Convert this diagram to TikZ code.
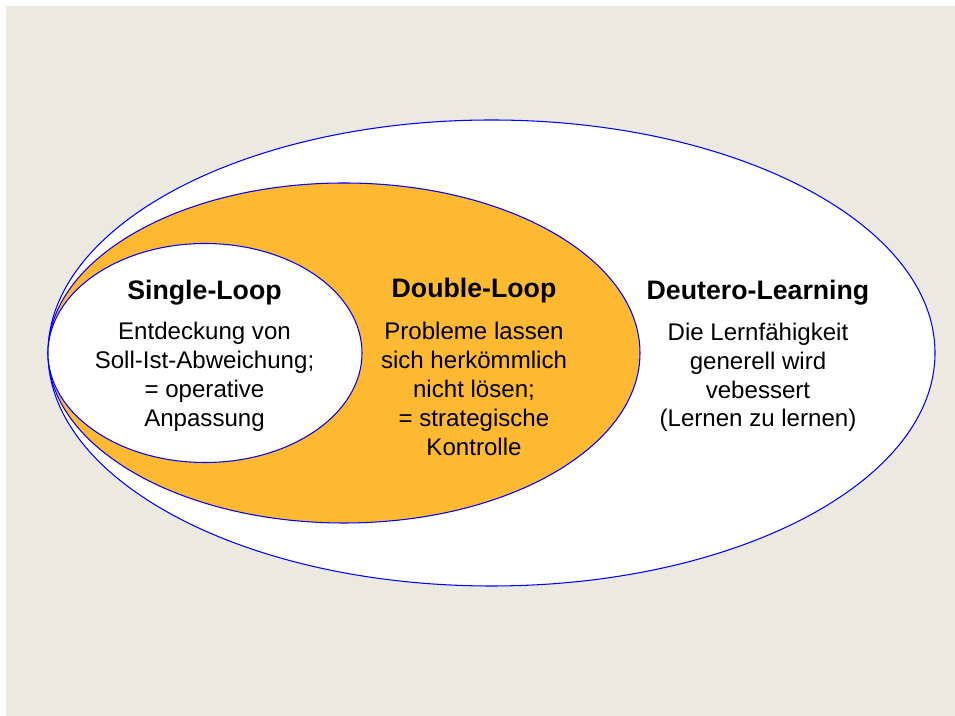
\documentclass[tikz,border=0pt]{standalone}
\usepackage{fontspec}
\setmainfont{Liberation Sans}
\definecolor{slidebg}{RGB}{236,234,224}
\definecolor{loopgold}{RGB}{253,185,50}

\begin{document}
\begin{tikzpicture}[scale=1.0,
  loop/.style={draw=blue, line width=0.6pt},
  titel/.style={font=\fontsize{15.2}{18}\selectfont\bfseries},
  inhalt/.style={align=center, font=\fontsize{13.7}{16.4}\selectfont}]
\useasboundingbox (0,0) rectangle (19.1,14.32);
\fill[white] (0,0) rectangle (19.1,14.32);
\fill[slidebg] (0.12,0) rectangle (19.1,14.2);

% drei Lernstufen, links aneinander
\filldraw[loop, fill=white] (9.83,7.26) ellipse (8.87 and 4.66);
\filldraw[loop, fill=loopgold] (6.88,7.26) ellipse (5.92 and 3.40);
\filldraw[loop, fill=white] (4.10,7.26) ellipse (3.14 and 2.19);

\node[titel] (single) at (4.09,8.46) {Single-Loop};
\node[inhalt] (singletxt) at (4.09,6.78) {Entdeckung von\\Soll-Ist-Abweichung;\\= operative\\Anpassung};

\node[titel] (double) at (9.48,8.50) {Double-Loop};
\node[inhalt] (doubletxt) at (9.48,6.54) {Probleme lassen\\sich herkömmlich\\nicht lösen;\\= strategische\\Kontrolle};

\node[titel] (deutero) at (15.16,8.46) {Deutero-Learning};
\node[inhalt] (deuterotxt) at (15.16,6.77) {Die Lernfähigkeit\\generell wird\\vebessert\\(Lernen zu lernen)};

\end{tikzpicture}
\end{document}
